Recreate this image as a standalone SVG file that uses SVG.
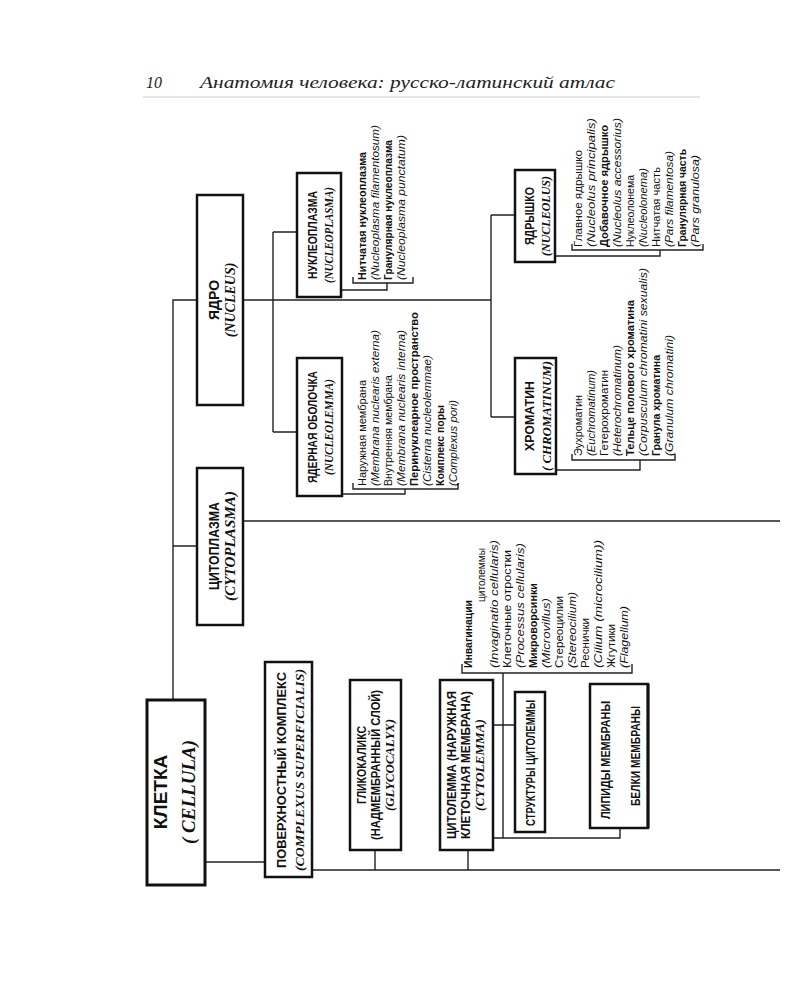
<svg xmlns="http://www.w3.org/2000/svg" width="800" height="1000" viewBox="0 0 800 1000">
<style>
.bx{fill:#fff;stroke:#111;stroke-width:2.5}
.bx3{fill:#fff;stroke:#111;stroke-width:3}
.ln{fill:none;stroke:#222;stroke-width:1.4}
.ru{font-family:"Liberation Sans Narrow","Liberation Sans",Arial,sans-serif;font-weight:bold;fill:#111}
.la{font-family:"Liberation Serif","Times New Roman",serif;font-style:italic;font-weight:bold;fill:#111}
.li{font-family:"Liberation Sans Narrow","Liberation Sans",Arial,sans-serif;font-size:11.5px;fill:#111}
.lb{font-weight:bold}
.lt{font-family:"Liberation Sans Narrow","Liberation Sans",Arial,sans-serif;font-style:italic;font-size:11.5px;fill:#111}
.hd{font-family:"Liberation Serif","Times New Roman",serif;font-style:italic;font-size:16px;fill:#222}
</style>
<rect width="800" height="1000" fill="#fff"/>
<g id="header">
<text class="hd" x="146" y="88">10</text>
<text class="hd" x="200" y="88" textLength="415" lengthAdjust="spacingAndGlyphs">Анатомия человека: русско-латинский атлас</text>
<line x1="143" y1="97" x2="700" y2="97" stroke="#ccc" stroke-width="1"/>
</g>
<g id="connectors">
<path class="ln" d="M173,700 V300 H197 M173,546 H197 M243,521 H780 M243,300 H491 M273,232 V432 M273,232 H297 M273,432 H297 M491,215 V417 M491,215 H515 M491,417 H515 M205,862 H265 M312,870 H780 M375,850 V870 M468,850 V870 M493,838 H620 V684 M503,673 V838 M493,725 H515"/>
<path class="ln" d="M353,277 V283 H413 V277 M341,290 H387 V283"/>
<path class="ln" d="M353,483 V489 H458 V483 M342,494 H405 V489"/>
<path class="ln" d="M572,244 V250 H703 V244 M555,256 H660 V250"/>
<path class="ln" d="M572,454 V460 H675 V454 M556,470 H640 V460"/>
<path class="ln" d="M462,664 V673 H632 V664"/>
</g>
<g id="cellula">
<rect class="bx3" x="147" y="700" width="58" height="185"/>
<text class="ru" font-size="19" text-anchor="middle" transform="translate(167,792) rotate(-90)">КЛЕТКА</text>
<text class="la" font-size="19" text-anchor="middle" transform="translate(195,792) rotate(-90)">( CELLULA)</text>
</g>
<g id="nucleus">
<rect class="bx" x="197" y="195" width="46" height="210"/>
<text class="ru" font-size="14" text-anchor="middle" transform="translate(219,300) rotate(-90)">ЯДРО</text>
<text class="la" font-size="14" text-anchor="middle" transform="translate(235,300) rotate(-90)">(NUCLEUS)</text>
</g>
<g id="cytoplasma">
<rect class="bx" x="197" y="468" width="46" height="157"/>
<text class="ru" font-size="14" text-anchor="middle" textLength="88" lengthAdjust="spacingAndGlyphs" transform="translate(219,546) rotate(-90)">ЦИТОПЛАЗМА</text>
<text class="la" font-size="14" text-anchor="middle" textLength="110" lengthAdjust="spacingAndGlyphs" transform="translate(235,546) rotate(-90)">(CYTOPLASMA)</text>
</g>
<g id="complexus">
<rect class="bx" x="265" y="662" width="47" height="215"/>
<text class="ru" font-size="13" text-anchor="middle" textLength="196" lengthAdjust="spacingAndGlyphs" transform="translate(286,770) rotate(-90)">ПОВЕРХНОСТНЫЙ КОМПЛЕКС</text>
<text class="la" font-size="13" text-anchor="middle" textLength="202" lengthAdjust="spacingAndGlyphs" transform="translate(304,770) rotate(-90)">(COMPLEXUS SUPERFICIALIS)</text>
</g>
<g id="nucleoplasma">
<rect class="bx" x="297" y="173" width="44" height="124"/>
<text class="ru" font-size="12" font-weight="normal" text-anchor="middle" textLength="88" lengthAdjust="spacingAndGlyphs" transform="translate(317,235) rotate(-90)">НУКЛЕОПЛАЗМА</text>
<text class="la" font-size="12" text-anchor="middle" textLength="96" lengthAdjust="spacingAndGlyphs" transform="translate(333,235) rotate(-90)">(NUCLEOPLASMA)</text>
</g>
<g id="nucleoplasma-list">
<text class="li lb" textLength="128" lengthAdjust="spacingAndGlyphs" transform="translate(366,280) rotate(-90)">Нитчатая нуклеоплазма</text>
<text class="lt" textLength="155" lengthAdjust="spacingAndGlyphs" transform="translate(379,280) rotate(-90)">(Nucleoplasma filamentosum)</text>
<text class="li lb" textLength="140" lengthAdjust="spacingAndGlyphs" transform="translate(392,280) rotate(-90)">Гранулярная нуклеоплазма</text>
<text class="lt" textLength="145" lengthAdjust="spacingAndGlyphs" transform="translate(405,280) rotate(-90)">(Nucleoplasma punctatum)</text>
</g>
<g id="nucleolemma">
<rect class="bx" x="297" y="358" width="45" height="138"/>
<text class="ru" font-size="12" font-weight="normal" text-anchor="middle" textLength="112" lengthAdjust="spacingAndGlyphs" transform="translate(317,427) rotate(-90)">ЯДЕРНАЯ ОБОЛОЧКА</text>
<text class="la" font-size="12" text-anchor="middle" textLength="96" lengthAdjust="spacingAndGlyphs" transform="translate(333,427) rotate(-90)">(NUCLEOLEMMA)</text>
</g>
<g id="nucleolemma-list">
<text class="li" textLength="106" lengthAdjust="spacingAndGlyphs" transform="translate(366,486) rotate(-90)">Наружная мембрана</text>
<text class="lt" textLength="156" lengthAdjust="spacingAndGlyphs" transform="translate(379,486) rotate(-90)">(Membrana nuclearis externa)</text>
<text class="li" textLength="111" lengthAdjust="spacingAndGlyphs" transform="translate(392,486) rotate(-90)">Внутренняя мембрана</text>
<text class="lt" textLength="156" lengthAdjust="spacingAndGlyphs" transform="translate(405,486) rotate(-90)">(Membrana nuclearis interna)</text>
<text class="li lb" textLength="174" lengthAdjust="spacingAndGlyphs" transform="translate(418,486) rotate(-90)">Перинуклеарное пространство</text>
<text class="lt" textLength="131" lengthAdjust="spacingAndGlyphs" transform="translate(431,486) rotate(-90)">(Cisterna nucleolemmae)</text>
<text class="li lb" textLength="81" lengthAdjust="spacingAndGlyphs" transform="translate(444,486) rotate(-90)">Комплекс поры</text>
<text class="lt" textLength="86" lengthAdjust="spacingAndGlyphs" transform="translate(457,486) rotate(-90)">(Complexus pori)</text>
</g>
<g id="nucleolus">
<rect class="bx" x="515" y="170" width="40" height="92"/>
<text class="ru" font-size="12" text-anchor="middle" textLength="58" lengthAdjust="spacingAndGlyphs" transform="translate(534,216) rotate(-90)">ЯДРЫШКО</text>
<text class="la" font-size="12" text-anchor="middle" textLength="80" lengthAdjust="spacingAndGlyphs" transform="translate(550,216) rotate(-90)">(NUCLEOLUS)</text>
</g>
<g id="nucleolus-list">
<text class="li" textLength="97" lengthAdjust="spacingAndGlyphs" transform="translate(582,247) rotate(-90)">Главное ядрышко</text>
<text class="lt" textLength="129" lengthAdjust="spacingAndGlyphs" transform="translate(595,247) rotate(-90)">(Nucleolus principalis)</text>
<text class="li lb" textLength="122" lengthAdjust="spacingAndGlyphs" transform="translate(608,247) rotate(-90)">Добавочное ядрышко</text>
<text class="lt" textLength="129" lengthAdjust="spacingAndGlyphs" transform="translate(621,247) rotate(-90)">(Nucleolus accessorius)</text>
<text class="li" textLength="72" lengthAdjust="spacingAndGlyphs" transform="translate(634,247) rotate(-90)">Нуклеолонема</text>
<text class="lt" textLength="79" lengthAdjust="spacingAndGlyphs" transform="translate(647,247) rotate(-90)">(Nucleolonema)</text>
<text class="li" textLength="80" lengthAdjust="spacingAndGlyphs" transform="translate(660,247) rotate(-90)">Нитчатая часть</text>
<text class="lt" textLength="96" lengthAdjust="spacingAndGlyphs" transform="translate(673,247) rotate(-90)">(Pars filamentosa)</text>
<text class="li lb" textLength="98" lengthAdjust="spacingAndGlyphs" transform="translate(686,247) rotate(-90)">Гранулярная часть</text>
<text class="lt" textLength="92" lengthAdjust="spacingAndGlyphs" transform="translate(699,247) rotate(-90)">(Pars granulosa)</text>
</g>
<g id="chromatinum">
<rect class="bx" x="515" y="358" width="41" height="116"/>
<text class="ru" font-size="12" text-anchor="middle" textLength="70" lengthAdjust="spacingAndGlyphs" transform="translate(534,416) rotate(-90)">ХРОМАТИН</text>
<text class="la" font-size="12" text-anchor="middle" textLength="110" lengthAdjust="spacingAndGlyphs" transform="translate(551,416) rotate(-90)">( CHROMATINUM)</text>
</g>
<g id="chromatinum-list">
<text class="li" textLength="61" lengthAdjust="spacingAndGlyphs" transform="translate(582,456) rotate(-90)">Эухроматин</text>
<text class="lt" textLength="86" lengthAdjust="spacingAndGlyphs" transform="translate(595,456) rotate(-90)">(Euchromatinum)</text>
<text class="li" textLength="86" lengthAdjust="spacingAndGlyphs" transform="translate(608,456) rotate(-90)">Гетерохроматин</text>
<text class="lt" textLength="111" lengthAdjust="spacingAndGlyphs" transform="translate(621,456) rotate(-90)">(Heterochromatinum)</text>
<text class="li lb" textLength="156" lengthAdjust="spacingAndGlyphs" transform="translate(634,456) rotate(-90)">Тельце полового хроматина</text>
<text class="lt" textLength="188" lengthAdjust="spacingAndGlyphs" transform="translate(647,456) rotate(-90)">(Corpusculum chromatini sexualis)</text>
<text class="li lb" textLength="101" lengthAdjust="spacingAndGlyphs" transform="translate(660,456) rotate(-90)">Гранула хроматина</text>
<text class="lt" textLength="121" lengthAdjust="spacingAndGlyphs" transform="translate(673,456) rotate(-90)">(Granulum chromatini)</text>
</g>
<g id="glycocalyx">
<rect class="bx" x="350" y="680" width="51" height="170"/>
<text class="ru" font-size="12" font-weight="normal" text-anchor="middle" textLength="78" lengthAdjust="spacingAndGlyphs" transform="translate(366,765) rotate(-90)">ГЛИКОКАЛИКС</text>
<text class="ru" font-size="12" font-weight="normal" text-anchor="middle" textLength="150" lengthAdjust="spacingAndGlyphs" transform="translate(380,765) rotate(-90)">(НАДМЕМБРАННЫЙ СЛОЙ)</text>
<text class="la" font-size="12" text-anchor="middle" textLength="92" lengthAdjust="spacingAndGlyphs" transform="translate(394,765) rotate(-90)">(GLYCOCALYX)</text>
</g>
<g id="cytolemma">
<rect class="bx" x="440" y="680" width="53" height="170"/>
<text class="ru" font-size="12" text-anchor="middle" textLength="148" lengthAdjust="spacingAndGlyphs" transform="translate(456,765) rotate(-90)">ЦИТОЛЕММА (НАРУЖНАЯ</text>
<text class="ru" font-size="12" font-weight="normal" text-anchor="middle" textLength="148" lengthAdjust="spacingAndGlyphs" transform="translate(470,765) rotate(-90)">КЛЕТОЧНАЯ МЕМБРАНА)</text>
<text class="la" font-size="12" text-anchor="middle" textLength="92" lengthAdjust="spacingAndGlyphs" transform="translate(484,765) rotate(-90)">(CYTOLEMMA)</text>
</g>
<g id="structures">
<rect class="bx" x="515" y="692" width="30" height="140"/>
<text class="ru" font-size="12" text-anchor="middle" textLength="126" lengthAdjust="spacingAndGlyphs" transform="translate(535,763) rotate(-90)">СТРУКТУРЫ ЦИТОЛЕММЫ</text>
</g>
<g id="structures-list">
<text class="li lb" textLength="68" lengthAdjust="spacingAndGlyphs" transform="translate(472,668) rotate(-90)">Инвагинации</text>
<text class="li" textLength="54" lengthAdjust="spacingAndGlyphs" transform="translate(485,602) rotate(-90)">цитолеммы</text>
<text class="lt" textLength="128" lengthAdjust="spacingAndGlyphs" transform="translate(498,668) rotate(-90)">(Invaginatio cellularis)</text>
<text class="li" textLength="118" lengthAdjust="spacingAndGlyphs" transform="translate(511,668) rotate(-90)">Клеточные отростки</text>
<text class="lt" textLength="125" lengthAdjust="spacingAndGlyphs" transform="translate(524,668) rotate(-90)">(Processus cellularis)</text>
<text class="li lb" textLength="85" lengthAdjust="spacingAndGlyphs" transform="translate(537,668) rotate(-90)">Микроворсинки</text>
<text class="lt" textLength="70" lengthAdjust="spacingAndGlyphs" transform="translate(550,668) rotate(-90)">(Microvillus)</text>
<text class="li" textLength="72" lengthAdjust="spacingAndGlyphs" transform="translate(563,668) rotate(-90)">Стереоцилии</text>
<text class="lt" textLength="76" lengthAdjust="spacingAndGlyphs" transform="translate(576,668) rotate(-90)">(Stereocilium)</text>
<text class="li" textLength="50" lengthAdjust="spacingAndGlyphs" transform="translate(589,668) rotate(-90)">Реснички</text>
<text class="lt" textLength="128" lengthAdjust="spacingAndGlyphs" transform="translate(602,668) rotate(-90)">(Cilium (microcilium))</text>
<text class="li" textLength="44" lengthAdjust="spacingAndGlyphs" transform="translate(615,668) rotate(-90)">Жгутики</text>
<text class="lt" textLength="62" lengthAdjust="spacingAndGlyphs" transform="translate(628,668) rotate(-90)">(Flagellum)</text>
</g>
<g id="membrane-composition">
<rect class="bx" x="590" y="684" width="58" height="144" stroke-width="1.6"/>
<line x1="648" y1="684" x2="648" y2="828" stroke="#111" stroke-width="3"/>
<text class="ru" font-size="12" font-weight="normal" text-anchor="middle" textLength="118" lengthAdjust="spacingAndGlyphs" transform="translate(610,760) rotate(-90)">ЛИПИДЫ МЕМБРАНЫ</text>
<text class="ru" font-size="12" text-anchor="middle" textLength="100" lengthAdjust="spacingAndGlyphs" transform="translate(640,756) rotate(-90)">БЕЛКИ МЕМБРАНЫ</text>
</g>
</svg>
